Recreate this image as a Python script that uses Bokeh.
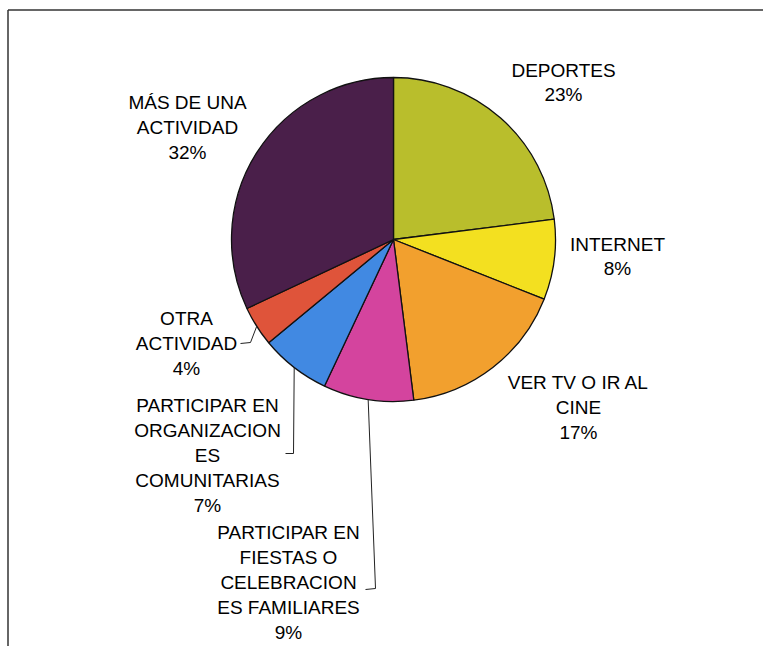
import math
from bokeh.plotting import figure
from bokeh.models import Range1d, ColumnDataSource
from bokeh.core.properties import value
from bokeh.embed import file_html
from bokeh.resources import INLINE

# ---- data ----
categories = ["DEPORTES", "INTERNET", "VER TV O IR AL CINE",
              "PARTICIPAR EN FIESTAS O CELEBRACIONES FAMILIARES",
              "PARTICIPAR EN ORGANIZACIONES COMUNITARIAS",
              "OTRA ACTIVIDAD", "MÁS DE UNA ACTIVIDAD"]
percents = [23, 8, 17, 9, 7, 4, 32]
label_texts = [
    "DEPORTES\n23%",
    "INTERNET\n8%",
    "VER TV O IR AL\nCINE\n17%",
    "PARTICIPAR EN\nFIESTAS O\nCELEBRACION\nES FAMILIARES\n9%",
    "PARTICIPAR EN\nORGANIZACION\nES\nCOMUNITARIAS\n7%",
    "OTRA\nACTIVIDAD\n4%",
    "MÁS DE UNA\nACTIVIDAD\n32%",
]
colors = ["#B9BE2C", "#F3E020", "#F2A02E", "#D4449E", "#4189E2", "#DF543A", "#4A1F4A"]

# ---- layout (screen pixel coordinates) ----
W, H = 763, 646
CX, CY, R = 393, 239, 162
label_px = [(563, 82), (617, 256), (578, 407), (288, 582), (207, 455), (186, 343), (187, 127)]
FONT = "Liberation Sans"

def Y(py):
    return H - py

p = figure(width=W, height=H, output_backend="svg", toolbar_location=None,
           x_range=Range1d(0, W), y_range=Range1d(0, H),
           min_border=0, outline_line_color=None)
p.axis.visible = False
p.grid.visible = False
p.background_fill_color = "white"
p.border_fill_color = "white"

# wedges: start at 12 o'clock, clockwise
total = sum(percents)
starts, ends, mids = [], [], []
acc = 0.0
for v in percents:
    a0 = math.pi / 2 - 2 * math.pi * acc / total
    acc += v
    a1 = math.pi / 2 - 2 * math.pi * acc / total
    starts.append(a0)
    ends.append(a1)
    mids.append((a0 + a1) / 2)

src = ColumnDataSource(dict(start=starts, end=ends, color=colors))
p.wedge(x=CX, y=Y(CY), radius=R, start_angle="start", end_angle="end",
        direction="clock", fill_color="color", line_color="#111111",
        line_width=1.3, source=src)

# labels
lsrc = ColumnDataSource(dict(x=[lp[0] for lp in label_px],
                             y=[Y(lp[1]) for lp in label_px],
                             text=label_texts))
p.text(x="x", y="y", text="text", source=lsrc, text_align="center",
       text_baseline="middle", text_font=value(FONT), text_font_size="19px",
       text_color="#000000", text_line_height=1.18)

# leader lines for small slices
def edge(i, rr=R):
    a = mids[i]
    return CX + rr * math.cos(a), CY - rr * math.sin(a)

# OTRA ACTIVIDAD (index 5)
ex, ey = edge(5)
p.line([240, 250, ex], [Y(343), Y(342), Y(ey)], line_color="#222222", line_width=1)
# ORGANIZACIONES (index 4)
ex, ey = edge(4)
p.line([285, 293, ex], [Y(453), Y(453), Y(ey)], line_color="#222222", line_width=1)
# FIESTAS (index 3)
ex, ey = edge(3)
p.line([365, 375, ex], [Y(589), Y(588), Y(ey)], line_color="#222222", line_width=1)

# partial frame (top and left)
p.line([7.5, W], [Y(9.5), Y(9.5)], line_color="#333333", line_width=1.5)
p.line([7.5, 7.5], [Y(9.5), 0], line_color="#333333", line_width=1.5)

open("out.html", "w").write(file_html(p, INLINE))
